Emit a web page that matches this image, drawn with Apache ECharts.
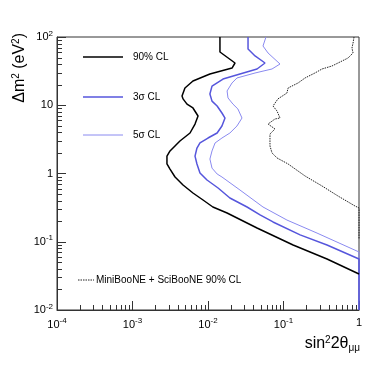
<!DOCTYPE html>
<html>
<head>
<meta charset="utf-8">
<script src="https://cdn.jsdelivr.net/npm/echarts@6/dist/echarts.min.js"></script>
<style>
  html, body { margin: 0; padding: 0; background: #fff; }
  #main { width: 378px; height: 366px; }
</style>
</head>
<body>
<div id="main"></div>
<script>
// sin^2 2theta (x) and delta m^2 (y)
const cl90X = [0.0144, 0.0144, 0.0228, 0.0208, 0.0106, 0.00632, 0.00495, 0.00453, 0.00467, 0.00527, 0.00632, 0.00738, 0.00673, 0.00578, 0.00425, 0.00314, 0.00286, 0.00286, 0.00314, 0.00366, 0.00467, 0.00632, 0.00859, 0.0116, 0.0179, 0.0446, 0.134, 0.377, 1]
const cl90Y = [100, 60.3, 41.6, 35.1, 28.7, 22.7, 17.9, 13.7, 12.4, 10.4, 9.12, 6.96, 5.31, 3.92, 2.99, 2.14, 1.80, 1.38, 1.16, 0.889, 0.679, 0.518, 0.409, 0.323, 0.264, 0.159, 0.0896, 0.0558, 0.0337]

const s3X = [0.0339, 0.0339, 0.0420, 0.0569, 0.0446, 0.0265, 0.0158, 0.0113, 0.0106, 0.0113, 0.0132, 0.0153, 0.0168, 0.0153, 0.0132, 0.0100, 0.00783, 0.00714, 0.00673, 0.00714, 0.00783, 0.00970, 0.0136, 0.0195, 0.0329, 0.0489, 0.0726, 0.166, 0.377, 1, 1]
const s3Y = [100, 66.7, 52.7, 41.6, 34.0, 28.7, 24.2, 19.1, 14.6, 11.5, 9.75, 7.70, 6.50, 4.97, 3.92, 3.31, 2.80, 2.36, 1.80, 1.38, 1.02, 0.803, 0.613, 0.438, 0.323, 0.247, 0.195, 0.126, 0.0896, 0.0558, 0.01]

const s5X = [0.0586, 0.0535, 0.0624, 0.0899, 0.0705, 0.0420, 0.0242, 0.0208, 0.0179, 0.0184, 0.0214, 0.0249, 0.0282, 0.0242, 0.0195, 0.0153, 0.0124, 0.0113, 0.0106, 0.0113, 0.0132, 0.0153, 0.0265, 0.0535, 0.111, 0.278, 1, 1]
const s5Y = [100, 73.8, 58.3, 40.2, 34.0, 29.7, 25.1, 21.2, 16.2, 12.8, 10.4, 8.81, 6.50, 4.97, 3.92, 3.31, 2.80, 2.14, 1.63, 1.20, 0.984, 0.889, 0.573, 0.323, 0.208, 0.134, 0.0708, 0.01]

const mbX = [0.859, 0.834, 0.807, 0.834, 0.715, 0.596, 0.439, 0.324, 0.261, 0.193, 0.156, 0.115, 0.111, 0.0845, 0.0726, 0.0820, 0.0899, 0.0771, 0.0624, 0.0771, 0.0662, 0.0662, 0.0705, 0.0820, 0.115, 0.193, 0.324, 0.527, 0.885, 1, 1]
const mbY = [100, 81.6, 69.0, 58.3, 49.2, 44.5, 37.6, 34.0, 29.7, 25.1, 21.2, 17.9, 15.1, 12.4, 9.75, 8.24, 6.50, 6.29, 5.31, 4.49, 3.79, 2.53, 2.00, 1.69, 1.38, 0.919, 0.656, 0.468, 0.334, 0.313, 0.11]

const xTickLabels = {'-4': ['10', '-4'], '-3': ['10', '-3'], '-2': ['10', '-2'], '-1': ['10', '-1'], '0': ['1', '']}
const yTickLabels = {'-2': ['10', '-2'], '-1': ['10', '-1'], '0': ['1', ''], '1': ['10', ''], '2': ['10', '2']}

const font = 'Liberation Sans, Arial, sans-serif'
const zip = (xs, ys) => xs.map((x, i) => [x, ys[i]])

const colors = { cl90: '#000', s3: '#5656dc', s5: '#8a8af0', mb: '#222' }
const axisColor = '#333'

function tickLabel(table) {
  return (v) => {
    let k = String(Math.round(Math.log10(v)))
    let t = table[k]
    if (!t) return ''
    return t[1] ? `{b|${t[0]}}{s|${t[1]}}` : `{b|${t[0]}}`
  }
}

const labelRich = {
  b: { fontSize: 11, fontFamily: font, color: '#000' },
  s: { fontSize: 8, fontFamily: font, color: '#000', padding: [0, 0, 7, 0] }
}

var chart = echarts.init(document.getElementById('main'))

let option = {
  animation: false,
  backgroundColor: '#fff',
  grid: { left: 57, right: 19, top: 37, bottom: 56, show: true, borderColor: axisColor, borderWidth: 1, backgroundColor: 'transparent' },
  xAxis: {
    type: 'log', logBase: 10, min: 1e-4, max: 1,
    splitNumber: 4,
    axisLine: { lineStyle: { color: axisColor } },
    axisTick: { inside: true, length: 9, lineStyle: { color: axisColor } },
    splitLine: { show: false },
    axisLabel: { formatter: tickLabel(xTickLabels), rich: labelRich, margin: 7 }
  },
  yAxis: {
    type: 'log', logBase: 10, min: 0.01, max: 100,
    splitNumber: 4,
    axisLine: { show: true, lineStyle: { color: axisColor } },
    axisTick: { show: true, inside: true, length: 9, lineStyle: { color: axisColor } },
    splitLine: { show: false },
    axisLabel: { formatter: tickLabel(yTickLabels), rich: labelRich, margin: 4 }
  },
  series: [
    { name: '90% CL', type: 'line', data: zip(cl90X, cl90Y), showSymbol: false, symbol: 'none',
      lineStyle: { color: colors.cl90, width: 1.5 }, z: 4 },
    { name: '3σ CL', type: 'line', data: zip(s3X, s3Y), showSymbol: false, symbol: 'none',
      lineStyle: { color: colors.s3, width: 1.5 }, z: 3 },
    { name: '5σ CL', type: 'line', data: zip(s5X, s5Y), showSymbol: false, symbol: 'none',
      lineStyle: { color: colors.s5, width: 1 }, z: 2 },
    { name: 'MiniBooNE + SciBooNE 90% CL', type: 'line', data: zip(mbX, mbY), showSymbol: false, symbol: 'none',
      lineStyle: { color: colors.mb, width: 1, type: [1.5, 1] }, z: 2 }
  ]
}

chart.setOption(option)

// minor ticks at 2..9 of each decade, placed through the axis scales
const snap = (p) => Math.round(p) + 0.5
let minor = []
for (let e = -4; e < 0; e++) {
  for (let m = 2; m <= 9; m++) {
    let p = snap(chart.convertToPixel({ xAxisIndex: 0 }, m * Math.pow(10, e)))
    minor.push({ type: 'line', z: 10, shape: { x1: p, y1: 310, x2: p, y2: 305 }, style: { stroke: axisColor, lineWidth: 1 }, silent: true })
  }
}
for (let e = -2; e < 2; e++) {
  for (let m = 2; m <= 9; m++) {
    let p = snap(chart.convertToPixel({ yAxisIndex: 0 }, m * Math.pow(10, e)))
    minor.push({ type: 'line', z: 10, shape: { x1: 57, y1: p, x2: 62, y2: p }, style: { stroke: axisColor, lineWidth: 1 }, silent: true })
  }
}

// legend drawn by hand, ROOT style
const legendItems = [
  { name: '90% CL', y: 57, color: colors.cl90, width: 1.5 },
  { name: '3σ CL', y: 97, color: colors.s3, width: 1.5 },
  { name: '5σ CL', y: 135, color: colors.s5, width: 1 }
]
let legend = []
legendItems.forEach(it => {
  legend.push({ type: 'line', z: 10, shape: { x1: 83, y1: it.y, x2: 123, y2: it.y }, style: { stroke: it.color, lineWidth: it.width } })
  legend.push({ type: 'text', z: 10, x: 133, y: it.y, style: { text: it.name, fontSize: 10, fontFamily: font, fill: '#000', verticalAlign: 'middle' } })
})
legend.push({ type: 'line', z: 10, shape: { x1: 78, y1: 280, x2: 94, y2: 280 }, style: { stroke: colors.mb, lineWidth: 1, lineDash: [1.5, 1] } })
legend.push({ type: 'text', z: 10, x: 96, y: 280, style: { text: 'MiniBooNE + SciBooNE 90% CL', fontSize: 10, fontFamily: font, fill: '#000', verticalAlign: 'middle' } })

chart.setOption({
  graphic: [
    ...minor,
    ...legend,
    {
      type: 'text', x: 20, y: 33, rotation: Math.PI / 2,
      style: {
        text: '{a|Δm}{p|2}{a| (eV}{p|2}{a|)}',
        align: 'right', verticalAlign: 'middle',
        rich: {
          a: { fontSize: 16, fontFamily: font, color: '#000' },
          p: { fontSize: 10, fontFamily: font, color: '#000', padding: [0, 0, 8, 0] }
        }
      }
    },
    {
      type: 'text', x: 360, y: 344,
      style: {
        text: '{a|sin}{p|2}{a|2θ}{q|μμ}',
        align: 'right', verticalAlign: 'middle',
        rich: {
          a: { fontSize: 16, fontFamily: font, color: '#000' },
          p: { fontSize: 10, fontFamily: font, color: '#000', padding: [0, 0, 8, 0] },
          q: { fontSize: 10, fontFamily: font, color: '#000', padding: [8, 0, 0, 0] }
        }
      }
    }
  ]
})
</script>
</body>
</html>
